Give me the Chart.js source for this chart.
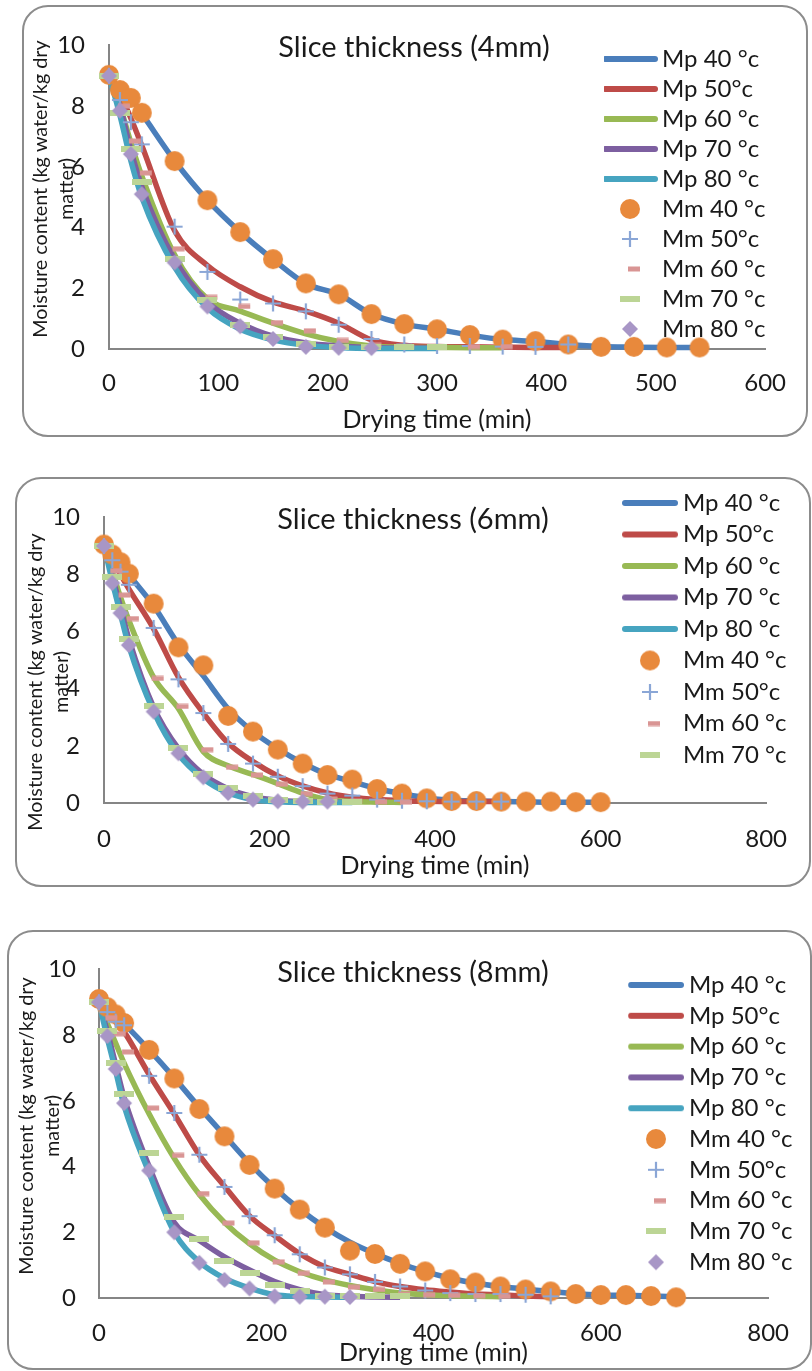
<!DOCTYPE html>
<html>
<head>
<meta charset="utf-8">
<script src="https://cdn.jsdelivr.net/npm/chart.js@4.4.1/dist/chart.umd.min.js"></script>
<style>
  body { margin: 0; background: #fff; width: 812px; height: 1371px; overflow: hidden; position: relative; }
  .panel { position: absolute; box-sizing: border-box; border: 2px solid #8c8c8c; border-radius: 26px; background: #fff; }
  .panel canvas { position: absolute; left: 0; top: 0; }
</style>
</head>
<body>
<div class="panel" style="left:22px;top:5px;width:786px;height:432px"><canvas id="c4" width="782" height="428"></canvas></div>
<div class="panel" style="left:15px;top:477px;width:796px;height:410px"><canvas id="c6" width="792" height="406"></canvas></div>
<div class="panel" style="left:7px;top:930px;width:805px;height:440px"><canvas id="c8" width="801" height="436"></canvas></div>
<script>
// series names (same in the three panels)
const seriesNames = ['Mp 40 °c', 'Mp 50°c', 'Mp 60 °c', 'Mp 70 °c', 'Mp 80 °c',
                     'Mm 40 °c', 'Mm 50°c', 'Mm 60 °c', 'Mm 70 °c', 'Mm 80 °c'];

// drying time grids (min); each series uses the first N points
const time4 = [0, 10, 20, 30, 60, 90, 120, 150, 180, 210, 240, 270, 300, 330, 360, 390, 420, 450, 480, 510, 540];
const time6 = [0, 10, 20, 30, 60, 90, 120, 150, 180, 210, 240, 270, 300, 330, 360, 390, 420, 450, 480, 510, 540, 570, 600];
const time8 = [0, 10, 20, 30, 60, 90, 120, 150, 180, 210, 240, 270, 300, 330, 360, 390, 420, 450, 480, 510, 540, 570, 600, 630, 660, 690];

// 4 mm slices
const mp40_4 = [9.0, 8.55, 8.25, 7.75, 6.2, 4.9, 3.85, 2.95, 2.15, 1.8, 1.15, 0.82, 0.65, 0.46, 0.31, 0.25, 0.15, 0.08, 0.06, 0.05, 0.05];
const mp50_4 = [9.0, 8.4, 7.6, 6.7, 3.9, 2.75, 2.05, 1.55, 1.25, 0.85, 0.3, 0.12, 0.08, 0.07, 0.06, 0.05, 0.05];
const mp60_4 = [9.0, 8.0, 6.8, 5.7, 3.1, 1.65, 1.25, 0.85, 0.5, 0.25, 0.1, 0.06, 0.05, 0.04, 0.04];
const mp70_4 = [9.0, 8.0, 6.55, 5.35, 2.95, 1.55, 0.85, 0.42, 0.2, 0.1, 0.05, 0.03, 0.03];
const mp80_4 = [9.0, 7.7, 6.2, 5.0, 2.7, 1.35, 0.65, 0.3, 0.12, 0.05, 0.02, 0.02, 0.02];
const mm40_4 = [9.03, 8.53, 8.27, 7.78, 6.19, 4.9, 3.85, 2.96, 2.16, 1.8, 1.15, 0.82, 0.65, 0.46, 0.31, 0.26, 0.15, 0.07, 0.07, 0.05, 0.05];
const mm50_4 = [9.0, 8.2, 7.47, 6.74, 4.03, 2.54, 1.63, 1.5, 1.24, 0.8, 0.33, 0.15, 0.1, 0.1, 0.08, 0.07, 0.15];
const mm60_4 = [9.0, 8.0, 6.85, 5.8, 3.3, 1.7, 1.4, 0.87, 0.6, 0.28, 0.12, 0.08, 0.08, 0.08, 0.08];
const mm70_4 = [9.0, 7.78, 6.6, 5.5, 2.95, 1.63, 0.8, 0.4, 0.15, 0.08, 0.05, 0.05, 0.05];
const mm80_4 = [9.0, 7.85, 6.42, 5.1, 2.85, 1.4, 0.75, 0.33, 0.07, 0.04, 0.03];

// 6 mm slices
const mp40_6 = [9.0, 8.7, 8.4, 8.0, 6.9, 5.55, 4.45, 3.3, 2.5, 1.9, 1.4, 1.0, 0.75, 0.5, 0.33, 0.18, 0.1, 0.07, 0.05, 0.04, 0.03, 0.03, 0.03];
const mp50_6 = [9.0, 8.5, 8.0, 7.5, 6.1, 4.4, 3.15, 2.1, 1.45, 0.95, 0.6, 0.35, 0.2, 0.12, 0.08, 0.06, 0.05, 0.05, 0.05];
const mp60_6 = [9.0, 8.1, 7.2, 6.4, 4.4, 3.3, 1.8, 1.3, 1.0, 0.68, 0.35, 0.12, 0.05, 0.03, 0.02];
const mp70_6 = [9.0, 7.95, 6.85, 5.75, 3.35, 1.9, 1.0, 0.5, 0.22, 0.1, 0.05, 0.03, 0.03];
const mp80_6 = [9.0, 7.75, 6.6, 5.5, 3.2, 1.7, 0.85, 0.35, 0.12, 0.04, 0.02, 0.02, 0.02];
const mm40_6 = [9.05, 8.7, 8.43, 8.03, 6.98, 5.45, 4.82, 3.05, 2.5, 1.87, 1.38, 0.98, 0.82, 0.49, 0.33, 0.16, 0.07, 0.07, 0.05, 0.05, 0.05, 0.03, 0.03];
const mm50_6 = [9.0, 8.5, 8.1, 7.64, 6.13, 4.33, 3.15, 2.07, 1.38, 0.92, 0.59, 0.33, 0.26, 0.12, 0.08, 0.06, 0.05, 0.05, 0.05];
const mm60_6 = [9.0, 8.13, 7.28, 6.46, 4.36, 3.38, 1.87, 1.25, 0.98, 0.66, 0.33, 0.13, 0.06, 0.04, 0.03];
const mm70_6 = [9.0, 7.93, 6.85, 5.74, 3.38, 1.93, 1.02, 0.52, 0.26, 0.12, 0.06, 0.05, 0.04];
const mm80_6 = [9.0, 7.7, 6.65, 5.53, 3.2, 1.74, 0.9, 0.35, 0.12, 0.06, 0.05, 0.05];

// 8 mm slices
const mp40_8 = [9.0, 8.85, 8.6, 8.35, 7.55, 6.7, 5.8, 4.95, 4.1, 3.35, 2.7, 2.15, 1.7, 1.35, 1.05, 0.8, 0.6, 0.45, 0.35, 0.27, 0.2, 0.13, 0.09, 0.08, 0.06, 0.04];
const mp50_8 = [9.0, 8.7, 8.4, 8.1, 6.8, 5.6, 4.35, 3.4, 2.5, 1.9, 1.35, 0.95, 0.72, 0.5, 0.35, 0.25, 0.18, 0.12, 0.1, 0.06, 0.04];
const mp60_8 = [9.0, 8.35, 7.75, 7.15, 5.6, 4.25, 3.15, 2.3, 1.65, 1.15, 0.8, 0.55, 0.38, 0.25, 0.15, 0.1, 0.07, 0.05, 0.04];
const mp70_8 = [9.0, 8.1, 7.1, 6.1, 4.0, 2.3, 1.75, 1.25, 0.85, 0.5, 0.25, 0.1, 0.05, 0.03, 0.02];
const mp80_8 = [9.0, 7.9, 6.9, 5.85, 3.8, 2.0, 1.1, 0.6, 0.3, 0.1, 0.05, 0.03, 0.02];
const mm40_8 = [9.1, 8.85, 8.63, 8.37, 7.55, 6.68, 5.75, 4.92, 4.05, 3.33, 2.69, 2.14, 1.44, 1.34, 1.04, 0.81, 0.57, 0.47, 0.35, 0.26, 0.2, 0.12, 0.09, 0.09, 0.06, 0.02];
const mm50_8 = [9.0, 8.7, 8.41, 8.3, 6.76, 5.63, 4.36, 3.38, 2.49, 1.91, 1.33, 0.93, 0.72, 0.49, 0.35, 0.23, 0.15, 0.12, 0.12, 0.1, 0.05];
const mm60_8 = [9.0, 8.53, 8.04, 7.49, 5.78, 4.34, 3.18, 2.28, 1.68, 1.1, 0.75, 0.49, 0.33, 0.26, 0.12, 0.1, 0.08, 0.07, 0.05];
const mm70_8 = [9.0, 8.13, 7.16, 6.2, 4.4, 2.47, 1.8, 1.12, 0.75, 0.4, 0.2, 0.07, 0.05, 0.05, 0.05];
const mm80_8 = [9.0, 7.97, 6.97, 5.93, 3.88, 2.0, 1.07, 0.55, 0.29, 0.05, 0.04, 0.04, 0.03];

const lineColors = ['#4a7ebb', '#be4b48', '#98b954', '#7d5fa0', '#46a4c0'];
const textColor = '#1a1a1a';
const fontFamily = "Lato, 'Liberation Sans', sans-serif";
const legendFont = 24;

Chart.defaults.font.family = fontFamily;
Chart.defaults.color = textColor;

// small offscreen canvases used as point styles (markers and legend swatches)
function sprite(w, h, draw) {
    const c = document.createElement('canvas');
    c.width = w; c.height = h;
    draw(c.getContext('2d'));
    return c;
}
const swatch = color => sprite(58, 8, g => {
    g.strokeStyle = color; g.lineWidth = 6; g.lineCap = 'round';
    g.beginPath(); g.moveTo(4, 4); g.lineTo(54, 4); g.stroke();
});
const markers = [
    sprite(22, 22, g => { g.fillStyle = '#e8893c'; g.beginPath(); g.arc(11, 11, 10, 0, Math.PI * 2); g.fill(); }),
    sprite(18, 18, g => {
        g.strokeStyle = '#8aa6d6'; g.lineWidth = 2.2;
        g.beginPath(); g.moveTo(1, 9); g.lineTo(17, 9); g.moveTo(9, 1); g.lineTo(9, 17); g.stroke();
    }),
    sprite(26, 6, g => { g.fillStyle = '#d99594'; g.fillRect(11, 0.5, 12, 5); }),
    sprite(20, 6, g => { g.fillStyle = '#bcd595'; g.fillRect(0, 0, 20, 6); }),
    sprite(18, 18, g => {
        g.fillStyle = '#a896c6';
        g.beginPath(); g.moveTo(9, 1); g.lineTo(17, 9); g.lineTo(9, 17); g.lineTo(1, 9); g.closePath(); g.fill();
    })
];

// moves the legend into the plot and draws the chart title and the y axis title
const panelText = {
    id: 'panelText',
    afterLayout(chart, args, o) {
        const lg = chart.legend;
        const pad = o.legend.dy - legendFont;
        const bw = 2 * (o.legend.tx - o.legend.cx - legendFont / 2);
        lg.left = o.legend.cx - bw / 2 - pad;
        lg.top = o.legend.y0 - pad - legendFont / 2;
        lg.right = lg.left + 260;
        lg.bottom = lg.top + 400;
    },
    afterDraw(chart, args, o) {
        const ctx = chart.ctx;
        ctx.save();
        ctx.fillStyle = textColor;
        ctx.textAlign = 'center';
        ctx.textBaseline = 'alphabetic';
        ctx.font = '29px ' + fontFamily;
        ctx.fillText(o.title, o.titleX, o.titleY);
        ctx.font = '19.8px ' + fontFamily;
        o.yTitle.forEach((line, i) => {
            ctx.save();
            ctx.translate(o.yTitleX[i], o.yTitleY);
            ctx.rotate(-Math.PI / 2);
            ctx.fillText(line, 0, 0);
            ctx.restore();
        });
        ctx.restore();
    }
};

const panels = [
    { id: 'c4', title: 'Slice thickness (4mm)', time: time4,
      mp: [mp40_4, mp50_4, mp60_4, mp70_4, mp80_4], mm: [mm40_4, mm50_4, mm60_4, mm70_4, mm80_4],
      xMax: 600, xStep: 100, area: { left: 85, top: 22, right: 746, bottom: 342 }, xH: 86, xPad: 20, yPad: 24,
      titleX: 390, titleY: 50, yTitleX: [23, 49], yTitleY: 182,
      legend: { cx: 606, tx: 638, y0: 52, dy: 30, count: 10 } },
    { id: 'c6', title: 'Slice thickness (6mm)', time: time6,
      mp: [mp40_6, mp50_6, mp60_6, mp70_6, mp80_6], mm: [mm40_6, mm50_6, mm60_6, mm70_6, mm80_6],
      xMax: 800, xStep: 200, area: { left: 87, top: 19, right: 758, bottom: 324 }, xH: 78, xPad: 22, yPad: 24,
      titleX: 396, titleY: 50, yTitleX: [25, 51], yTitleY: 203,
      legend: { cx: 633, tx: 666, y0: 24, dy: 31.5, count: 9 } },
    { id: 'c8', title: 'Slice thickness (8mm)', time: time8,
      mp: [mp40_8, mp50_8, mp60_8, mp70_8, mp80_8], mm: [mm40_8, mm50_8, mm60_8, mm70_8, mm80_8],
      xMax: 800, xStep: 200, area: { left: 90, top: 20, right: 776, bottom: 366 }, xH: 70, xPad: 21, yPad: 23,
      titleX: 404, titleY: 50, yTitleX: [24, 50], yTitleY: 194,
      legend: { cx: 647, tx: 680, y0: 53, dy: 30.8, count: 10 } }
];

panels.forEach(p => {
    const canvas = document.getElementById(p.id);
    const points = vals => vals.map((y, i) => ({ x: p.time[i], y: y }));
    const datasets = [];

    // predicted curves
    p.mp.forEach((vals, i) => {
        datasets.push({
            label: seriesNames[i],
            data: points(vals),
            showLine: true,
            borderColor: lineColors[i],
            backgroundColor: lineColors[i],
            borderWidth: 5.5,
            cubicInterpolationMode: 'monotone',
            pointRadius: 0,
            pointHoverRadius: 0,
            pointStyle: swatch(lineColors[i]),
            clip: false,
            order: -i
        });
    });
    // measured points
    p.mm.forEach((vals, i) => {
        datasets.push({
            label: seriesNames[5 + i],
            data: points(vals),
            showLine: false,
            pointRadius: 4,
            pointHoverRadius: 4,
            pointBorderWidth: 0,
            pointStyle: markers[i],
            clip: false,
            order: -(5 + i)
        });
    });

    const tickFont = { size: 24 };
    const axisLine = { color: '#858585', width: 2 };
    new Chart(canvas, {
        type: 'scatter',
        data: { datasets: datasets },
        options: {
            responsive: false,
            animation: false,
            events: [],
            layout: {
                padding: {
                    left: 0,
                    top: p.area.top,
                    right: canvas.width - p.area.right,
                    bottom: canvas.height - p.area.bottom - p.xH
                }
            },
            scales: {
                x: {
                    type: 'linear', min: 0, max: p.xMax,
                    ticks: { stepSize: p.xStep, padding: p.xPad, font: tickFont, color: textColor },
                    grid: { display: false, drawTicks: false },
                    border: axisLine,
                    title: { display: true, text: 'Drying time (min)', font: { size: 25 }, color: textColor, padding: 0 },
                    afterFit: s => { s.height = p.xH; }
                },
                y: {
                    min: 0, max: 10,
                    ticks: { stepSize: 2, padding: p.yPad, font: tickFont, color: textColor },
                    grid: { display: false, drawTicks: false },
                    border: axisLine,
                    afterFit: s => { s.width = p.area.left; }
                }
            },
            plugins: {
                tooltip: { enabled: false },
                legend: {
                    position: 'chartArea',
                    align: 'start',
                    labels: {
                        usePointStyle: true,
                        pointStyleWidth: 2 * (p.legend.tx - p.legend.cx - legendFont / 2),
                        padding: p.legend.dy - legendFont,
                        font: { size: legendFont },
                        color: textColor,
                        filter: item => item.datasetIndex < p.legend.count,
                        sort: (a, b) => a.datasetIndex - b.datasetIndex
                    }
                },
                panelText: {
                    title: p.title, titleX: p.titleX, titleY: p.titleY,
                    yTitle: ['Moisture content (kg water/kg dry', 'matter)'],
                    yTitleX: p.yTitleX, yTitleY: p.yTitleY,
                    legend: p.legend
                }
            }
        },
        plugins: [panelText]
    });
});
</script>
</body>
</html>
